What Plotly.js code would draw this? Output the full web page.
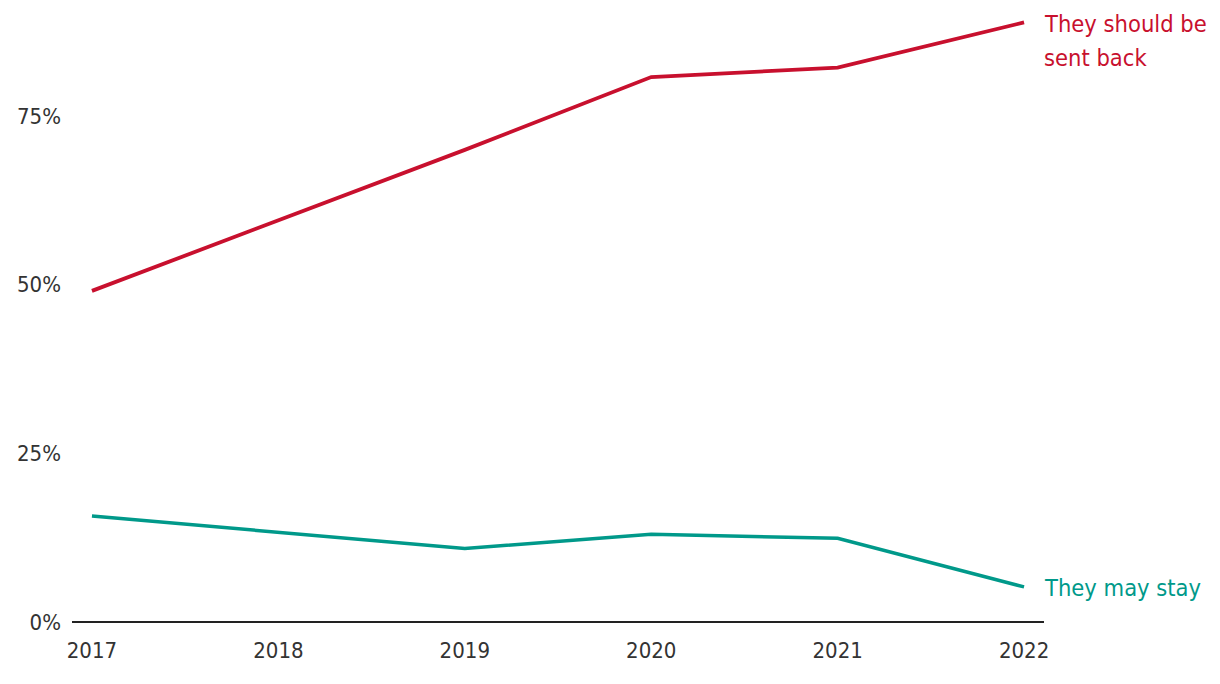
<!DOCTYPE html>
<html><head><meta charset="utf-8">
<script src="https://cdn.plot.ly/plotly-3.0.1.min.js"></script>
<style>body{margin:0;background:#fff}#chart{width:1220px;height:684px}</style>
</head><body><div id="chart"></div>
<script>
const years = [2017, 2019, 2020, 2021, 2022];
const sentBack = [49.1, 70.0, 80.8, 82.2, 88.9];
const mayStay = [15.7, 10.9, 13.0, 12.4, 5.2];
const xTicks = [2017, 2018, 2019, 2020, 2021, 2022];
const yTicks = [0, 25, 50, 75];
const yTickText = ['0%', '25%', '50%', '75%'];
const labelSentLines = ['They should be', 'sent back'];
const labelStay = 'They may stay';

const red = '#c8102e', teal = '#00998a';
const fontFam = '"DejaVu Sans Condensed", "Roboto", sans-serif';

const data = [
  {x: years, y: sentBack, mode: 'lines', line: {color: red, width: 3.8}, hoverinfo: 'skip'},
  {x: years, y: mayStay, mode: 'lines', line: {color: teal, width: 3.5}, hoverinfo: 'skip'}
];
const lastX = years[years.length-1];
const layout = {
  width: 1220, height: 684,
  margin: {l: 72, r: 176, t: 15, b: 62},
  paper_bgcolor: '#fff', plot_bgcolor: '#fff',
  showlegend: false,
  font: {family: fontFam, size: 22, color: '#333'},
  xaxis: {range: [2016.893, 2022.107], tickvals: xTicks, ticktext: xTicks.map(String),
          showgrid: false, zeroline: false, showline: false, ticks: '', ticklabelstandoff: 13,
          tickfont: {size: 22, color: '#333'}},
  yaxis: {range: [0, 90], tickvals: yTicks, ticktext: yTickText, showgrid: false,
          zeroline: true, zerolinecolor: '#222', zerolinewidth: 2, showline: false, ticks: '',
          ticklabelstandoff: 10, tickfont: {size: 22, color: '#333'}},
  annotations: [
    {x: lastX, y: sentBack[sentBack.length-1], xref: 'x', yref: 'y', text: labelSentLines[0],
     showarrow: false, xanchor: 'left', yanchor: 'middle', xshift: 18, yshift: -2, align: 'left',
     font: {family: fontFam, size: 23.5, color: red}},
    {x: lastX, y: sentBack[sentBack.length-1], xref: 'x', yref: 'y', text: labelSentLines[1],
     showarrow: false, xanchor: 'left', yanchor: 'middle', xshift: 18, yshift: -36, align: 'left',
     font: {family: fontFam, size: 23.5, color: red}},
    {x: lastX, y: mayStay[mayStay.length-1], xref: 'x', yref: 'y', text: labelStay,
     showarrow: false, xanchor: 'left', yanchor: 'middle', xshift: 18, yshift: -1, align: 'left',
     font: {family: fontFam, size: 23.5, color: teal}}
  ]
};
Plotly.newPlot('chart', data, layout, {staticPlot: true});
</script></body></html>
